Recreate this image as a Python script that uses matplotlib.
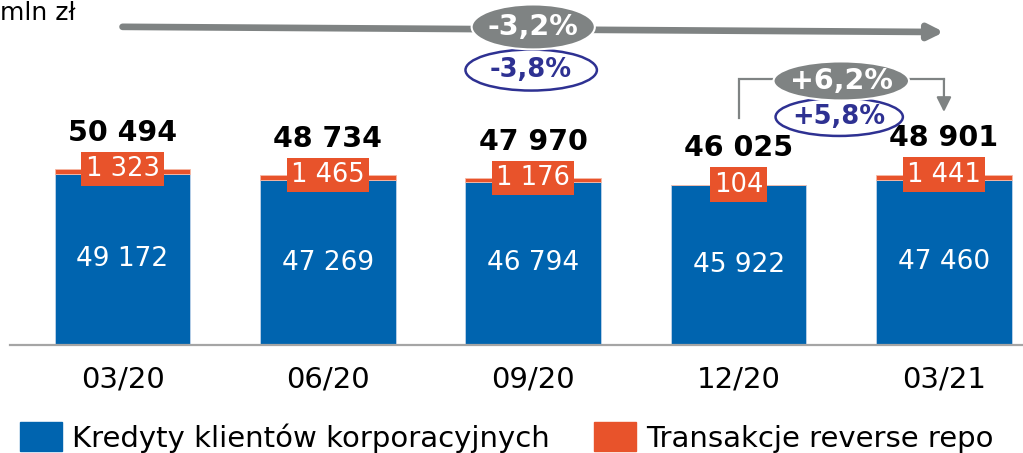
import matplotlib
matplotlib.use('Agg')
import matplotlib.pyplot as plt
from matplotlib.patches import Ellipse, Patch

# dane (mln zł)
kwartaly = ['03/20', '06/20', '09/20', '12/20', '03/21']
kredyty = [49172, 47269, 46794, 45922, 47460]
repo = [1323, 1465, 1176, 104, 1441]
razem = [50494, 48734, 47970, 46025, 48901]

kredyty_lbl = ['49 172', '47 269', '46 794', '45 922', '47 460']
repo_lbl = ['1 323', '1 465', '1 176', '104', '1 441']
razem_lbl = ['50 494', '48 734', '47 970', '46 025', '48 901']

zmiana_rr = ['-3,2%', '-3,8%']   # r/r: razem, kredyty
zmiana_kk = ['+6,2%', '+5,8%']   # k/k: razem, kredyty

legenda = ['Kredyty klientów korporacyjnych', 'Transakcje reverse repo']

NIEBIESKI = '#0064AF'
POMARANCZ = '#E8532B'
SZARY = '#7F8383'
GRANAT = '#2E3192'

plt.rcParams['font.family'] = ['DejaVu Sans']

fig = plt.figure(figsize=(10.23, 4.53), dpi=100)
ax = fig.add_axes([10 / 1023, 108 / 453, 1013 / 1023, 345 / 453])

x = list(range(len(kwartaly)))
ax.bar(x, kredyty, width=0.66, color=NIEBIESKI, edgecolor='#BFD3EA', linewidth=0.6)
ax.bar(x, repo, width=0.66, bottom=kredyty, color=POMARANCZ, edgecolor='#F6B9A6', linewidth=0.6)

ax.set_xlim(-0.548, 4.385)
ax.set_ylim(0, 99000)

for s in ['top', 'right', 'left']:
    ax.spines[s].set_visible(False)
ax.spines['bottom'].set_color('#A5A5A5')
ax.spines['bottom'].set_linewidth(1.6)
ax.set_yticks([])
ax.set_xticks(x)
ax.set_xticklabels(kwartaly, fontsize=21)
ax.tick_params(axis='x', length=0, pad=15)

for i in x:
    ax.text(i, kredyty[i] / 2, kredyty_lbl[i], ha='center', va='center',
            color='white', fontsize=19)
    ax.text(i, razem[i], repo_lbl[i], ha='center', va='center', color='white',
            fontsize=18.5,
            bbox=dict(boxstyle='square,pad=0.16', fc=POMARANCZ, ec='none'))
    ax.annotate(razem_lbl[i], xy=(i, razem[i]), xytext=(0, 26),
                textcoords='offset points', ha='center', va='center',
                fontsize=20.5, fontweight='bold', color='black')

# strzałka r/r
ax.annotate('', xy=(4.0, 89800), xytext=(0, 91300), annotation_clip=False,
            arrowprops=dict(arrowstyle='-|>', lw=4.8, color=SZARY,
                            mutation_scale=22, shrinkA=0, shrinkB=0))
ax.add_patch(Ellipse((1.99, 78900), 0.64, 11770, fc='white', ec=GRANAT, lw=1.8,
                     clip_on=False, zorder=5))
ax.text(1.99, 78900, zmiana_rr[1], ha='center', va='center', color=GRANAT,
        fontsize=18.5, fontweight='bold', zorder=6)
ax.add_patch(Ellipse((2.0, 91270), 0.6, 12900, fc=SZARY, ec='white', lw=1.5,
                     clip_on=False, zorder=7))
ax.text(2.0, 91270, zmiana_rr[0], ha='center', va='center', color='white',
        fontsize=20.5, fontweight='bold', zorder=8)

# strzałka k/k
ax.plot([3.0, 3.0, 4.0], [65150, 76340, 76340], color=SZARY, lw=1.6,
        solid_joinstyle='miter', zorder=4)
ax.annotate('', xy=(4.0, 66870), xytext=(4.0, 76340),
            arrowprops=dict(arrowstyle='-|>', lw=1.6, color=SZARY,
                            mutation_scale=22, shrinkA=0, shrinkB=0), zorder=4)
ax.add_patch(Ellipse((3.49, 65440), 0.62, 10900, fc='white', ec=GRANAT, lw=1.8,
                     zorder=5))
ax.text(3.49, 65440, zmiana_kk[1], ha='center', va='center', color=GRANAT,
        fontsize=18.5, fontweight='bold', zorder=6)
ax.add_patch(Ellipse((3.5, 75770), 0.66, 11200, fc=SZARY, ec='white', lw=1.5,
                     zorder=7))
ax.text(3.5, 75770, zmiana_kk[0], ha='center', va='center', color='white',
        fontsize=20.5, fontweight='bold', zorder=8)

fig.text(0.0, 1 - 20 / 453, 'mln zł', ha='left', va='baseline', fontsize=18)

uchwyty = [Patch(color=NIEBIESKI), Patch(color=POMARANCZ)]
fig.legend(uchwyty, legenda, loc='lower left', bbox_to_anchor=(0.008, -0.025),
           ncol=2, frameon=False, fontsize=21, handlelength=1.45, handleheight=1.15,
           handletextpad=0.35, columnspacing=1.5, borderaxespad=0)

fig.savefig('out.png', dpi=100)
